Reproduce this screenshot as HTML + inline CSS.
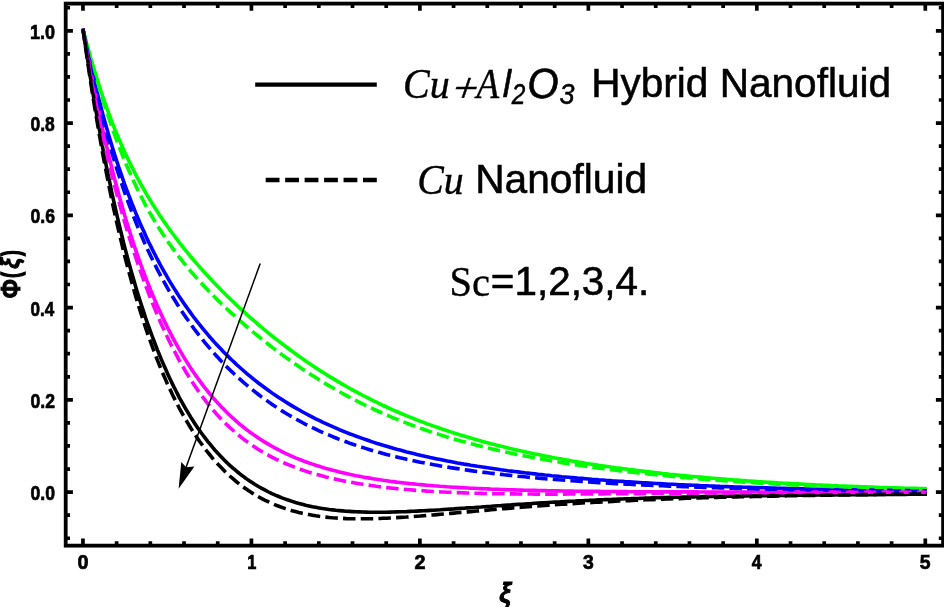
<!DOCTYPE html>
<html><head><meta charset="utf-8"><title>Plot</title>
<style>
html,body{margin:0;padding:0;background:#fff;}
body{width:944px;height:607px;position:relative;overflow:hidden;}
svg{position:absolute;left:0;top:0;display:block;}
text{fill:#000;}
.xl{font-family:"Liberation Sans","DejaVu Sans",sans-serif;font-weight:bold;font-style:italic;font-size:27px;}
.yl{font-family:"Liberation Sans","DejaVu Sans",sans-serif;font-weight:bold;font-size:27px;}
</style></head><body>
<svg width="944" height="607" viewBox="0 0 944 607">
<rect width="944" height="607" fill="#fff"/>
<path d="M82.7,28.8 L83.2,30.5 L84.9,37.0 L86.6,43.3 L88.3,49.5 L89.9,55.5 L91.6,61.3 L93.3,67.0 L95.0,72.6 L96.7,78.1 L98.4,83.4 L100.1,88.6 L101.7,93.6 L103.4,98.6 L105.1,103.4 L106.8,108.1 L108.5,112.7 L110.2,117.2 L111.8,121.6 L113.5,125.9 L115.2,130.1 L116.9,134.2 L118.6,138.2 L120.3,142.1 L122.0,146.0 L123.6,149.7 L125.3,153.4 L127.0,157.0 L128.7,160.6 L130.4,164.0 L132.1,167.4 L133.8,170.8 L135.4,174.0 L137.1,177.3 L138.8,180.4 L140.5,183.5 L142.2,186.5 L143.9,189.5 L145.5,192.4 L147.2,195.3 L148.9,198.1 L150.6,200.9 L152.3,203.7 L154.0,206.4 L155.7,209.0 L157.3,211.6 L159.0,214.2 L160.7,216.7 L162.4,219.2 L164.1,221.7 L165.8,224.1 L167.4,226.5 L169.1,228.8 L170.8,231.2 L172.5,233.5 L174.2,235.7 L175.9,238.0 L177.6,240.2 L179.2,242.4 L180.9,244.5 L182.6,246.7 L184.3,248.8 L186.0,250.9 L187.7,252.9 L189.4,255.0 L191.0,257.0 L192.7,259.0 L194.4,261.0 L196.1,262.9 L197.8,264.9 L199.5,266.8 L201.2,268.7 L202.8,270.6 L204.5,272.4 L206.2,274.3 L207.9,276.1 L209.6,277.9 L211.3,279.7 L212.9,281.5 L214.6,283.3 L216.3,285.0 L218.0,286.8 L219.7,288.5 L221.4,290.2 L223.1,291.9 L224.7,293.6 L226.4,295.2 L228.1,296.9 L229.8,298.5 L231.5,300.2 L233.2,301.8 L234.9,303.4 L236.5,305.0 L238.2,306.6 L239.9,308.1 L241.6,309.7 L243.3,311.2 L245.0,312.8 L246.6,314.3 L248.3,315.8 L250.0,317.3 L251.7,318.8 L255.1,321.7 L258.4,324.6 L261.8,327.5 L265.2,330.3 L268.6,333.1 L271.9,335.8 L275.3,338.5 L278.7,341.1 L282.0,343.7 L285.4,346.3 L288.8,348.8 L292.1,351.3 L295.5,353.8 L298.9,356.2 L302.3,358.6 L305.6,360.9 L309.0,363.3 L312.4,365.5 L315.7,367.8 L319.1,370.0 L322.5,372.1 L325.8,374.3 L329.2,376.4 L332.6,378.4 L336.0,380.4 L339.3,382.4 L342.7,384.4 L346.1,386.3 L349.4,388.2 L352.8,390.1 L356.2,391.9 L359.5,393.7 L362.9,395.5 L366.3,397.2 L369.7,398.9 L373.0,400.6 L376.4,402.2 L379.8,403.9 L383.1,405.5 L386.5,407.0 L389.9,408.6 L393.2,410.1 L396.6,411.5 L400.0,413.0 L403.4,414.4 L406.7,415.8 L410.1,417.2 L413.5,418.5 L416.8,419.9 L420.2,421.2 L423.6,422.4 L426.9,423.7 L430.3,424.9 L433.7,426.1 L437.1,427.3 L440.4,428.5 L443.8,429.6 L447.2,430.8 L450.5,431.9 L453.9,433.0 L457.3,434.0 L460.6,435.1 L464.0,436.1 L467.4,437.1 L470.8,438.1 L474.1,439.1 L477.5,440.0 L480.9,441.0 L484.2,441.9 L487.6,442.8 L491.0,443.7 L494.3,444.6 L497.7,445.4 L501.1,446.3 L504.5,447.1 L507.8,447.9 L511.2,448.7 L514.6,449.5 L517.9,450.3 L521.3,451.0 L524.7,451.8 L528.0,452.5 L531.4,453.2 L534.8,453.9 L538.2,454.6 L541.5,455.3 L544.9,456.0 L548.3,456.6 L551.6,457.3 L555.0,457.9 L558.4,458.5 L561.7,459.1 L565.1,459.7 L568.5,460.3 L571.9,460.9 L575.2,461.5 L578.6,462.1 L582.0,462.6 L585.3,463.2 L588.7,463.7 L592.1,464.2 L595.4,464.7 L598.8,465.3 L602.2,465.8 L605.6,466.2 L608.9,466.7 L612.3,467.2 L615.7,467.7 L619.0,468.1 L622.4,468.6 L625.8,469.0 L629.1,469.5 L632.5,469.9 L635.9,470.3 L639.3,470.7 L642.6,471.1 L646.0,471.5 L649.4,471.9 L652.7,472.3 L656.1,472.7 L659.5,473.1 L662.8,473.5 L666.2,473.8 L669.6,474.2 L673.0,474.5 L676.3,474.9 L679.7,475.2 L683.1,475.5 L686.4,475.9 L689.8,476.2 L693.2,476.5 L696.5,476.8 L699.9,477.1 L703.3,477.4 L706.7,477.7 L710.0,478.0 L713.4,478.3 L716.8,478.6 L720.1,478.8 L723.5,479.1 L726.9,479.4 L730.2,479.6 L733.6,479.9 L737.0,480.1 L740.4,480.4 L743.7,480.6 L747.1,480.9 L750.5,481.1 L753.8,481.3 L757.2,481.6 L760.6,481.8 L763.9,482.0 L767.3,482.2 L770.7,482.4 L774.1,482.6 L777.4,482.8 L780.8,483.0 L784.2,483.2 L787.5,483.4 L790.9,483.6 L794.3,483.8 L797.6,483.9 L801.0,484.1 L804.4,484.3 L807.8,484.5 L811.1,484.6 L814.5,484.8 L817.9,485.0 L821.2,485.1 L824.6,485.3 L828.0,485.4 L831.3,485.6 L834.7,485.7 L838.1,485.9 L841.5,486.0 L844.8,486.1 L848.2,486.3 L851.6,486.4 L854.9,486.5 L858.3,486.6 L861.7,486.8 L865.0,486.9 L868.4,487.0 L871.8,487.1 L875.2,487.2 L878.5,487.4 L881.9,487.5 L885.3,487.6 L888.6,487.7 L892.0,487.8 L895.4,487.9 L898.7,488.0 L902.1,488.1 L905.5,488.2 L908.9,488.3 L912.2,488.3 L915.6,488.4 L919.0,488.5 L922.3,488.6 L927.0,488.7" fill="none" stroke="#00ff00" stroke-width="3.6"/>
<path d="M82.8,28.7 L83.2,30.5 L84.9,38.7 L86.6,46.7 L88.3,54.4 L89.9,62.0 L91.6,69.4 L93.3,76.6 L95.0,83.7 L96.7,90.5 L98.4,97.3 L100.1,103.8 L101.7,110.2 L103.4,116.5 L105.1,122.6 L106.8,128.5 L108.5,134.4 L110.2,140.1 L111.8,145.6 L113.5,151.1 L115.2,156.4 L116.9,161.6 L118.6,166.7 L120.3,171.7 L122.0,176.6 L123.6,181.4 L125.3,186.0 L127.0,190.6 L128.7,195.1 L130.4,199.5 L132.1,203.8 L133.8,208.0 L135.4,212.2 L137.1,216.2 L138.8,220.2 L140.5,224.1 L142.2,227.9 L143.9,231.6 L145.5,235.3 L147.2,238.9 L148.9,242.5 L150.6,245.9 L152.3,249.4 L154.0,252.7 L155.7,256.0 L157.3,259.2 L159.0,262.4 L160.7,265.5 L162.4,268.6 L164.1,271.6 L165.8,274.5 L167.4,277.4 L169.1,280.3 L170.8,283.1 L172.5,285.9 L174.2,288.6 L175.9,291.3 L177.6,293.9 L179.2,296.5 L180.9,299.0 L182.6,301.5 L184.3,304.0 L186.0,306.4 L187.7,308.8 L189.4,311.1 L191.0,313.4 L192.7,315.7 L194.4,318.0 L196.1,320.2 L197.8,322.3 L199.5,324.5 L201.2,326.6 L202.8,328.7 L204.5,330.7 L206.2,332.7 L207.9,334.7 L209.6,336.7 L211.3,338.6 L212.9,340.5 L214.6,342.4 L216.3,344.2 L218.0,346.0 L219.7,347.8 L221.4,349.6 L223.1,351.4 L224.7,353.1 L226.4,354.8 L228.1,356.4 L229.8,358.1 L231.5,359.7 L233.2,361.3 L234.9,362.9 L236.5,364.5 L238.2,366.0 L239.9,367.5 L241.6,369.0 L243.3,370.5 L245.0,372.0 L246.6,373.4 L248.3,374.8 L250.0,376.2 L251.7,377.6 L255.1,380.3 L258.4,383.0 L261.8,385.5 L265.2,388.0 L268.6,390.5 L271.9,392.9 L275.3,395.2 L278.7,397.4 L282.0,399.6 L285.4,401.8 L288.8,403.9 L292.1,405.9 L295.5,407.9 L298.9,409.8 L302.3,411.7 L305.6,413.5 L309.0,415.3 L312.4,417.1 L315.7,418.8 L319.1,420.4 L322.5,422.1 L325.8,423.6 L329.2,425.2 L332.6,426.7 L336.0,428.1 L339.3,429.6 L342.7,431.0 L346.1,432.3 L349.4,433.7 L352.8,434.9 L356.2,436.2 L359.5,437.4 L362.9,438.6 L366.3,439.8 L369.7,441.0 L373.0,442.1 L376.4,443.2 L379.8,444.2 L383.1,445.3 L386.5,446.3 L389.9,447.3 L393.2,448.2 L396.6,449.2 L400.0,450.1 L403.4,451.0 L406.7,451.9 L410.1,452.7 L413.5,453.6 L416.8,454.4 L420.2,455.2 L423.6,456.0 L426.9,456.7 L430.3,457.5 L433.7,458.2 L437.1,458.9 L440.4,459.6 L443.8,460.3 L447.2,461.0 L450.5,461.6 L453.9,462.2 L457.3,462.9 L460.6,463.5 L464.0,464.1 L467.4,464.6 L470.8,465.2 L474.1,465.7 L477.5,466.3 L480.9,466.8 L484.2,467.3 L487.6,467.8 L491.0,468.3 L494.3,468.8 L497.7,469.3 L501.1,469.8 L504.5,470.2 L507.8,470.7 L511.2,471.1 L514.6,471.5 L517.9,471.9 L521.3,472.4 L524.7,472.8 L528.0,473.1 L531.4,473.5 L534.8,473.9 L538.2,474.3 L541.5,474.6 L544.9,475.0 L548.3,475.3 L551.6,475.7 L555.0,476.0 L558.4,476.3 L561.7,476.7 L565.1,477.0 L568.5,477.3 L571.9,477.6 L575.2,477.9 L578.6,478.2 L582.0,478.4 L585.3,478.7 L588.7,479.0 L592.1,479.3 L595.4,479.5 L598.8,479.8 L602.2,480.0 L605.6,480.3 L608.9,480.5 L612.3,480.8 L615.7,481.0 L619.0,481.2 L622.4,481.4 L625.8,481.7 L629.1,481.9 L632.5,482.1 L635.9,482.3 L639.3,482.5 L642.6,482.7 L646.0,482.9 L649.4,483.1 L652.7,483.3 L656.1,483.5 L659.5,483.6 L662.8,483.8 L666.2,484.0 L669.6,484.2 L673.0,484.3 L676.3,484.5 L679.7,484.7 L683.1,484.8 L686.4,485.0 L689.8,485.1 L693.2,485.3 L696.5,485.4 L699.9,485.6 L703.3,485.7 L706.7,485.8 L710.0,486.0 L713.4,486.1 L716.8,486.2 L720.1,486.4 L723.5,486.5 L726.9,486.6 L730.2,486.7 L733.6,486.9 L737.0,487.0 L740.4,487.1 L743.7,487.2 L747.1,487.3 L750.5,487.4 L753.8,487.5 L757.2,487.6 L760.6,487.7 L763.9,487.8 L767.3,487.9 L770.7,488.0 L774.1,488.1 L777.4,488.2 L780.8,488.3 L784.2,488.4 L787.5,488.5 L790.9,488.5 L794.3,488.6 L797.6,488.7 L801.0,488.8 L804.4,488.9 L807.8,488.9 L811.1,489.0 L814.5,489.1 L817.9,489.2 L821.2,489.2 L824.6,489.3 L828.0,489.4 L831.3,489.4 L834.7,489.5 L838.1,489.6 L841.5,489.6 L844.8,489.7 L848.2,489.7 L851.6,489.8 L854.9,489.9 L858.3,489.9 L861.7,490.0 L865.0,490.0 L868.4,490.1 L871.8,490.1 L875.2,490.2 L878.5,490.2 L881.9,490.3 L885.3,490.3 L888.6,490.4 L892.0,490.4 L895.4,490.4 L898.7,490.5 L902.1,490.5 L905.5,490.6 L908.9,490.6 L912.2,490.7 L915.6,490.7 L919.0,490.7 L922.3,490.8 L927.0,490.8" fill="none" stroke="#0000ff" stroke-width="3.6"/>
<path d="M82.9,28.7 L83.2,30.5 L84.9,39.9 L86.6,49.2 L88.3,58.3 L89.9,67.3 L91.6,76.0 L93.3,84.6 L95.0,93.0 L96.7,101.3 L98.4,109.3 L100.1,117.2 L101.7,125.0 L103.4,132.5 L105.1,139.9 L106.8,147.2 L108.5,154.3 L110.2,161.2 L111.8,168.0 L113.5,174.7 L115.2,181.2 L116.9,187.5 L118.6,193.8 L120.3,199.9 L122.0,205.8 L123.6,211.7 L125.3,217.4 L127.0,223.0 L128.7,228.4 L130.4,233.8 L132.1,239.0 L133.8,244.2 L135.4,249.2 L137.1,254.1 L138.8,258.9 L140.5,263.6 L142.2,268.3 L143.9,272.8 L145.5,277.2 L147.2,281.6 L148.9,285.8 L150.6,290.0 L152.3,294.1 L154.0,298.1 L155.7,302.0 L157.3,305.8 L159.0,309.6 L160.7,313.3 L162.4,316.9 L164.1,320.5 L165.8,323.9 L167.4,327.3 L169.1,330.7 L170.8,333.9 L172.5,337.1 L174.2,340.3 L175.9,343.4 L177.6,346.4 L179.2,349.3 L180.9,352.2 L182.6,355.1 L184.3,357.9 L186.0,360.6 L187.7,363.3 L189.4,365.9 L191.0,368.5 L192.7,371.0 L194.4,373.5 L196.1,375.9 L197.8,378.3 L199.5,380.6 L201.2,382.9 L202.8,385.1 L204.5,387.3 L206.2,389.4 L207.9,391.5 L209.6,393.6 L211.3,395.6 L212.9,397.6 L214.6,399.5 L216.3,401.4 L218.0,403.3 L219.7,405.1 L221.4,406.9 L223.1,408.6 L224.7,410.3 L226.4,412.0 L228.1,413.7 L229.8,415.3 L231.5,416.9 L233.2,418.4 L234.9,419.9 L236.5,421.4 L238.2,422.8 L239.9,424.3 L241.6,425.7 L243.3,427.0 L245.0,428.4 L246.6,429.7 L248.3,430.9 L250.0,432.2 L251.7,433.4 L255.1,435.8 L258.4,438.1 L261.8,440.3 L265.2,442.4 L268.6,444.4 L271.9,446.3 L275.3,448.2 L278.7,449.9 L282.0,451.6 L285.4,453.3 L288.8,454.8 L292.1,456.3 L295.5,457.8 L298.9,459.2 L302.3,460.5 L305.6,461.8 L309.0,463.0 L312.4,464.1 L315.7,465.3 L319.1,466.3 L322.5,467.4 L325.8,468.4 L329.2,469.3 L332.6,470.2 L336.0,471.1 L339.3,471.9 L342.7,472.7 L346.1,473.5 L349.4,474.3 L352.8,475.0 L356.2,475.7 L359.5,476.3 L362.9,477.0 L366.3,477.6 L369.7,478.1 L373.0,478.7 L376.4,479.2 L379.8,479.8 L383.1,480.3 L386.5,480.7 L389.9,481.2 L393.2,481.6 L396.6,482.1 L400.0,482.5 L403.4,482.9 L406.7,483.2 L410.1,483.6 L413.5,483.9 L416.8,484.3 L420.2,484.6 L423.6,484.9 L426.9,485.2 L430.3,485.5 L433.7,485.8 L437.1,486.0 L440.4,486.3 L443.8,486.5 L447.2,486.8 L450.5,487.0 L453.9,487.2 L457.3,487.4 L460.6,487.6 L464.0,487.8 L467.4,488.0 L470.8,488.2 L474.1,488.3 L477.5,488.5 L480.9,488.6 L484.2,488.8 L487.6,488.9 L491.0,489.1 L494.3,489.2 L497.7,489.3 L501.1,489.5 L504.5,489.6 L507.8,489.7 L511.2,489.8 L514.6,489.9 L517.9,490.0 L521.3,490.1 L524.7,490.2 L528.0,490.3 L531.4,490.3 L534.8,490.4 L538.2,490.5 L541.5,490.6 L544.9,490.6 L548.3,490.7 L551.6,490.8 L555.0,490.8 L558.4,490.9 L561.7,491.0 L565.1,491.0 L568.5,491.1 L571.9,491.1 L575.2,491.2 L578.6,491.2 L582.0,491.2 L585.3,491.3 L588.7,491.3 L592.1,491.4 L595.4,491.4 L598.8,491.4 L602.2,491.5 L605.6,491.5 L608.9,491.5 L612.3,491.5 L615.7,491.6 L619.0,491.6 L622.4,491.6 L625.8,491.6 L629.1,491.7 L632.5,491.7 L635.9,491.7 L639.3,491.7 L642.6,491.7 L646.0,491.8 L649.4,491.8 L652.7,491.8 L656.1,491.8 L659.5,491.8 L662.8,491.8 L666.2,491.9 L669.6,491.9 L673.0,491.9 L676.3,491.9 L679.7,491.9 L683.1,491.9 L686.4,491.9 L689.8,491.9 L693.2,491.9 L696.5,491.9 L699.9,492.0 L703.3,492.0 L706.7,492.0 L710.0,492.0 L713.4,492.0 L716.8,492.0 L720.1,492.0 L723.5,492.0 L726.9,492.0 L730.2,492.0 L733.6,492.0 L737.0,492.0 L740.4,492.0 L743.7,492.0 L747.1,492.0 L750.5,492.0 L753.8,492.0 L757.2,492.0 L760.6,492.0 L763.9,492.0 L767.3,492.1 L770.7,492.1 L774.1,492.1 L777.4,492.1 L780.8,492.1 L784.2,492.1 L787.5,492.1 L790.9,492.1 L794.3,492.1 L797.6,492.1 L801.0,492.1 L804.4,492.1 L807.8,492.1 L811.1,492.1 L814.5,492.1 L817.9,492.1 L821.2,492.1 L824.6,492.1 L828.0,492.1 L831.3,492.1 L834.7,492.1 L838.1,492.1 L841.5,492.1 L844.8,492.1 L848.2,492.1 L851.6,492.1 L854.9,492.1 L858.3,492.1 L861.7,492.1 L865.0,492.1 L868.4,492.1 L871.8,492.1 L875.2,492.1 L878.5,492.1 L881.9,492.1 L885.3,492.1 L888.6,492.1 L892.0,492.1 L895.4,492.1 L898.7,492.1 L902.1,492.1 L905.5,492.1 L908.9,492.1 L912.2,492.1 L915.6,492.1 L919.0,492.1 L922.3,492.1 L927.0,492.1" fill="none" stroke="#ff00ff" stroke-width="3.6"/>
<path d="M82.9,28.7 L83.2,30.5 L84.9,41.9 L86.6,53.1 L88.3,64.0 L89.9,74.6 L91.6,85.0 L93.3,95.2 L95.0,105.1 L96.7,114.8 L98.4,124.2 L100.1,133.5 L101.7,142.5 L103.4,151.3 L105.1,160.0 L106.8,168.4 L108.5,176.6 L110.2,184.7 L111.8,192.5 L113.5,200.2 L115.2,207.7 L116.9,215.1 L118.6,222.3 L120.3,229.3 L122.0,236.2 L123.6,242.9 L125.3,249.4 L127.0,255.8 L128.7,262.1 L130.4,268.2 L132.1,274.2 L133.8,280.1 L135.4,285.8 L137.1,291.4 L138.8,296.9 L140.5,302.2 L142.2,307.4 L143.9,312.6 L145.5,317.6 L147.2,322.5 L148.9,327.2 L150.6,331.9 L152.3,336.5 L154.0,341.0 L155.7,345.3 L157.3,349.6 L159.0,353.8 L160.7,357.9 L162.4,361.9 L164.1,365.8 L165.8,369.6 L167.4,373.3 L169.1,377.0 L170.8,380.6 L172.5,384.1 L174.2,387.5 L175.9,390.8 L177.6,394.1 L179.2,397.3 L180.9,400.4 L182.6,403.4 L184.3,406.4 L186.0,409.3 L187.7,412.1 L189.4,414.9 L191.0,417.6 L192.7,420.3 L194.4,422.9 L196.1,425.4 L197.8,427.9 L199.5,430.3 L201.2,432.7 L202.8,435.0 L204.5,437.2 L206.2,439.4 L207.9,441.6 L209.6,443.7 L211.3,445.7 L212.9,447.7 L214.6,449.7 L216.3,451.6 L218.0,453.4 L219.7,455.3 L221.4,457.0 L223.1,458.8 L224.7,460.4 L226.4,462.1 L228.1,463.7 L229.8,465.3 L231.5,466.8 L233.2,468.3 L234.9,469.7 L236.5,471.1 L238.2,472.5 L239.9,473.9 L241.6,475.2 L243.3,476.4 L245.0,477.7 L246.6,478.9 L248.3,480.1 L250.0,481.2 L251.7,482.3 L255.1,484.5 L258.4,486.5 L261.8,488.4 L265.2,490.2 L268.6,492.0 L271.9,493.6 L275.3,495.1 L278.7,496.5 L282.0,497.9 L285.4,499.1 L288.8,500.3 L292.1,501.4 L295.5,502.5 L298.9,503.4 L302.3,504.3 L305.6,505.2 L309.0,505.9 L312.4,506.7 L315.7,507.3 L319.1,507.9 L322.5,508.5 L325.8,509.0 L329.2,509.5 L332.6,509.9 L336.0,510.3 L339.3,510.6 L342.7,510.9 L346.1,511.2 L349.4,511.4 L352.8,511.6 L356.2,511.8 L359.5,511.9 L362.9,512.0 L366.3,512.1 L369.7,512.2 L373.0,512.2 L376.4,512.2 L379.8,512.2 L383.1,512.2 L386.5,512.2 L389.9,512.1 L393.2,512.0 L396.6,511.9 L400.0,511.8 L403.4,511.7 L406.7,511.6 L410.1,511.4 L413.5,511.3 L416.8,511.1 L420.2,510.9 L423.6,510.8 L426.9,510.6 L430.3,510.4 L433.7,510.2 L437.1,510.0 L440.4,509.8 L443.8,509.5 L447.2,509.3 L450.5,509.1 L453.9,508.9 L457.3,508.6 L460.6,508.4 L464.0,508.2 L467.4,507.9 L470.8,507.7 L474.1,507.5 L477.5,507.2 L480.9,507.0 L484.2,506.7 L487.6,506.5 L491.0,506.3 L494.3,506.0 L497.7,505.8 L501.1,505.6 L504.5,505.3 L507.8,505.1 L511.2,504.9 L514.6,504.6 L517.9,504.4 L521.3,504.2 L524.7,504.0 L528.0,503.8 L531.4,503.6 L534.8,503.3 L538.2,503.1 L541.5,502.9 L544.9,502.7 L548.3,502.5 L551.6,502.3 L555.0,502.1 L558.4,502.0 L561.7,501.8 L565.1,501.6 L568.5,501.4 L571.9,501.2 L575.2,501.1 L578.6,500.9 L582.0,500.7 L585.3,500.5 L588.7,500.4 L592.1,500.2 L595.4,500.1 L598.8,499.9 L602.2,499.8 L605.6,499.6 L608.9,499.5 L612.3,499.4 L615.7,499.2 L619.0,499.1 L622.4,499.0 L625.8,498.8 L629.1,498.7 L632.5,498.6 L635.9,498.5 L639.3,498.4 L642.6,498.2 L646.0,498.1 L649.4,498.0 L652.7,497.9 L656.1,497.8 L659.5,497.7 L662.8,497.6 L666.2,497.5 L669.6,497.4 L673.0,497.3 L676.3,497.3 L679.7,497.2 L683.1,497.1 L686.4,497.0 L689.8,496.9 L693.2,496.9 L696.5,496.8 L699.9,496.7 L703.3,496.6 L706.7,496.6 L710.0,496.5 L713.4,496.4 L716.8,496.4 L720.1,496.3 L723.5,496.2 L726.9,496.2 L730.2,496.1 L733.6,496.1 L737.0,496.0 L740.4,496.0 L743.7,495.9 L747.1,495.9 L750.5,495.8 L753.8,495.8 L757.2,495.7 L760.6,495.7 L763.9,495.6 L767.3,495.6 L770.7,495.5 L774.1,495.5 L777.4,495.5 L780.8,495.4 L784.2,495.4 L787.5,495.3 L790.9,495.3 L794.3,495.3 L797.6,495.2 L801.0,495.2 L804.4,495.2 L807.8,495.1 L811.1,495.1 L814.5,495.1 L817.9,495.0 L821.2,495.0 L824.6,495.0 L828.0,494.9 L831.3,494.9 L834.7,494.9 L838.1,494.8 L841.5,494.8 L844.8,494.8 L848.2,494.8 L851.6,494.7 L854.9,494.7 L858.3,494.7 L861.7,494.7 L865.0,494.6 L868.4,494.6 L871.8,494.6 L875.2,494.6 L878.5,494.5 L881.9,494.5 L885.3,494.5 L888.6,494.5 L892.0,494.4 L895.4,494.4 L898.7,494.4 L902.1,494.4 L905.5,494.4 L908.9,494.3 L912.2,494.3 L915.6,494.3 L919.0,494.3 L922.3,494.3 L927.0,494.2" fill="none" stroke="#000000" stroke-width="3.6"/>
<path d="M82.7,28.8 L83.2,30.5 L84.9,37.0 L86.6,43.3 L88.3,49.6 L89.9,55.8 L91.6,61.9 L93.3,67.9 L95.0,73.8 L96.7,79.6 L98.4,85.3 L100.1,90.9 L101.7,96.3 L103.4,101.7 L105.1,107.0 L106.8,112.1 L108.5,117.2 L110.2,122.2 L111.8,127.0 L113.5,131.8 L115.2,136.4 L116.9,141.0 L118.6,145.4 L120.3,149.8 L122.0,154.1 L123.6,158.2 L125.3,162.3 L127.0,166.3 L128.7,170.2 L130.4,174.1 L132.1,177.8 L133.8,181.5 L135.4,185.1 L137.1,188.6 L138.8,192.0 L140.5,195.4 L142.2,198.7 L143.9,201.9 L145.5,205.1 L147.2,208.2 L148.9,211.2 L150.6,214.2 L152.3,217.1 L154.0,219.9 L155.7,222.7 L157.3,225.5 L159.0,228.2 L160.7,230.8 L162.4,233.4 L164.1,236.0 L165.8,238.5 L167.4,240.9 L169.1,243.4 L170.8,245.7 L172.5,248.1 L174.2,250.4 L175.9,252.6 L177.6,254.9 L179.2,257.1 L180.9,259.2 L182.6,261.4 L184.3,263.5 L186.0,265.5 L187.7,267.6 L189.4,269.6 L191.0,271.6 L192.7,273.5 L194.4,275.5 L196.1,277.4 L197.8,279.3 L199.5,281.1 L201.2,283.0 L202.8,284.8 L204.5,286.6 L206.2,288.4 L207.9,290.2 L209.6,291.9 L211.3,293.6 L212.9,295.3 L214.6,297.0 L216.3,298.7 L218.0,300.4 L219.7,302.0 L221.4,303.7 L223.1,305.3 L224.7,306.9 L226.4,308.5 L228.1,310.0 L229.8,311.6 L231.5,313.2 L233.2,314.7 L234.9,316.2 L236.5,317.7 L238.2,319.2 L239.9,320.7 L241.6,322.2 L243.3,323.7 L245.0,325.1 L246.6,326.6 L248.3,328.0 L250.0,329.4 L251.7,330.9 L255.1,333.7 L258.4,336.4 L261.8,339.1 L265.2,341.8 L268.6,344.5 L271.9,347.1 L275.3,349.6 L278.7,352.2 L282.0,354.7 L285.4,357.1 L288.8,359.5 L292.1,361.9 L295.5,364.3 L298.9,366.6 L302.3,368.9 L305.6,371.1 L309.0,373.3 L312.4,375.5 L315.7,377.6 L319.1,379.8 L322.5,381.8 L325.8,383.9 L329.2,385.9 L332.6,387.8 L336.0,389.8 L339.3,391.7 L342.7,393.5 L346.1,395.4 L349.4,397.2 L352.8,399.0 L356.2,400.7 L359.5,402.4 L362.9,404.1 L366.3,405.7 L369.7,407.3 L373.0,408.9 L376.4,410.5 L379.8,412.0 L383.1,413.5 L386.5,415.0 L389.9,416.4 L393.2,417.8 L396.6,419.2 L400.0,420.6 L403.4,421.9 L406.7,423.2 L410.1,424.5 L413.5,425.7 L416.8,427.0 L420.2,428.2 L423.6,429.3 L426.9,430.5 L430.3,431.6 L433.7,432.8 L437.1,433.8 L440.4,434.9 L443.8,436.0 L447.2,437.0 L450.5,438.0 L453.9,439.0 L457.3,440.0 L460.6,440.9 L464.0,441.8 L467.4,442.8 L470.8,443.7 L474.1,444.5 L477.5,445.4 L480.9,446.3 L484.2,447.1 L487.6,447.9 L491.0,448.7 L494.3,449.5 L497.7,450.3 L501.1,451.0 L504.5,451.8 L507.8,452.5 L511.2,453.2 L514.6,453.9 L517.9,454.6 L521.3,455.3 L524.7,456.0 L528.0,456.6 L531.4,457.3 L534.8,457.9 L538.2,458.5 L541.5,459.1 L544.9,459.7 L548.3,460.3 L551.6,460.9 L555.0,461.5 L558.4,462.0 L561.7,462.6 L565.1,463.1 L568.5,463.7 L571.9,464.2 L575.2,464.7 L578.6,465.2 L582.0,465.7 L585.3,466.2 L588.7,466.7 L592.1,467.2 L595.4,467.6 L598.8,468.1 L602.2,468.5 L605.6,469.0 L608.9,469.4 L612.3,469.8 L615.7,470.3 L619.0,470.7 L622.4,471.1 L625.8,471.5 L629.1,471.9 L632.5,472.3 L635.9,472.7 L639.3,473.0 L642.6,473.4 L646.0,473.8 L649.4,474.1 L652.7,474.5 L656.1,474.8 L659.5,475.2 L662.8,475.5 L666.2,475.8 L669.6,476.2 L673.0,476.5 L676.3,476.8 L679.7,477.1 L683.1,477.4 L686.4,477.7 L689.8,478.0 L693.2,478.3 L696.5,478.6 L699.9,478.9 L703.3,479.1 L706.7,479.4 L710.0,479.7 L713.4,479.9 L716.8,480.2 L720.1,480.4 L723.5,480.7 L726.9,480.9 L730.2,481.2 L733.6,481.4 L737.0,481.6 L740.4,481.8 L743.7,482.1 L747.1,482.3 L750.5,482.5 L753.8,482.7 L757.2,482.9 L760.6,483.1 L763.9,483.3 L767.3,483.5 L770.7,483.7 L774.1,483.9 L777.4,484.1 L780.8,484.2 L784.2,484.4 L787.5,484.6 L790.9,484.8 L794.3,484.9 L797.6,485.1 L801.0,485.3 L804.4,485.4 L807.8,485.6 L811.1,485.7 L814.5,485.9 L817.9,486.0 L821.2,486.1 L824.6,486.3 L828.0,486.4 L831.3,486.6 L834.7,486.7 L838.1,486.8 L841.5,486.9 L844.8,487.1 L848.2,487.2 L851.6,487.3 L854.9,487.4 L858.3,487.5 L861.7,487.6 L865.0,487.7 L868.4,487.9 L871.8,488.0 L875.2,488.1 L878.5,488.2 L881.9,488.3 L885.3,488.4 L888.6,488.4 L892.0,488.5 L895.4,488.6 L898.7,488.7 L902.1,488.8 L905.5,488.9 L908.9,489.0 L912.2,489.0 L915.6,489.1 L919.0,489.2 L922.3,489.3 L927.0,489.4" fill="none" stroke="#00ff00" stroke-width="3.6" stroke-dasharray="12.5 5.2"/>
<path d="M82.9,28.7 L83.2,30.5 L84.9,39.3 L86.6,47.9 L88.3,56.2 L89.9,64.3 L91.6,72.2 L93.3,79.9 L95.0,87.3 L96.7,94.6 L98.4,101.7 L100.1,108.6 L101.7,115.4 L103.4,121.9 L105.1,128.3 L106.8,134.6 L108.5,140.7 L110.2,146.6 L111.8,152.4 L113.5,158.1 L115.2,163.6 L116.9,169.1 L118.6,174.3 L120.3,179.5 L122.0,184.6 L123.6,189.5 L125.3,194.3 L127.0,199.0 L128.7,203.7 L130.4,208.2 L132.1,212.6 L133.8,217.0 L135.4,221.2 L137.1,225.4 L138.8,229.4 L140.5,233.4 L142.2,237.3 L143.9,241.2 L145.5,244.9 L147.2,248.6 L148.9,252.3 L150.6,255.8 L152.3,259.3 L154.0,262.7 L155.7,266.1 L157.3,269.4 L159.0,272.6 L160.7,275.8 L162.4,278.9 L164.1,282.0 L165.8,285.0 L167.4,287.9 L169.1,290.9 L170.8,293.7 L172.5,296.5 L174.2,299.3 L175.9,302.0 L177.6,304.7 L179.2,307.3 L180.9,309.9 L182.6,312.4 L184.3,314.9 L186.0,317.4 L187.7,319.8 L189.4,322.2 L191.0,324.6 L192.7,326.9 L194.4,329.2 L196.1,331.4 L197.8,333.6 L199.5,335.8 L201.2,337.9 L202.8,340.0 L204.5,342.1 L206.2,344.1 L207.9,346.1 L209.6,348.1 L211.3,350.1 L212.9,352.0 L214.6,353.9 L216.3,355.8 L218.0,357.6 L219.7,359.4 L221.4,361.2 L223.1,362.9 L224.7,364.7 L226.4,366.4 L228.1,368.1 L229.8,369.7 L231.5,371.4 L233.2,373.0 L234.9,374.6 L236.5,376.1 L238.2,377.7 L239.9,379.2 L241.6,380.7 L243.3,382.2 L245.0,383.6 L246.6,385.0 L248.3,386.5 L250.0,387.9 L251.7,389.2 L255.1,391.9 L258.4,394.5 L261.8,397.1 L265.2,399.5 L268.6,401.9 L271.9,404.3 L275.3,406.5 L278.7,408.7 L282.0,410.9 L285.4,413.0 L288.8,415.0 L292.1,416.9 L295.5,418.9 L298.9,420.7 L302.3,422.5 L305.6,424.3 L309.0,426.0 L312.4,427.6 L315.7,429.2 L319.1,430.8 L322.5,432.3 L325.8,433.8 L329.2,435.2 L332.6,436.6 L336.0,438.0 L339.3,439.3 L342.7,440.6 L346.1,441.8 L349.4,443.1 L352.8,444.2 L356.2,445.4 L359.5,446.5 L362.9,447.6 L366.3,448.6 L369.7,449.7 L373.0,450.7 L376.4,451.6 L379.8,452.6 L383.1,453.5 L386.5,454.4 L389.9,455.3 L393.2,456.1 L396.6,456.9 L400.0,457.8 L403.4,458.5 L406.7,459.3 L410.1,460.0 L413.5,460.8 L416.8,461.5 L420.2,462.2 L423.6,462.8 L426.9,463.5 L430.3,464.1 L433.7,464.7 L437.1,465.3 L440.4,465.9 L443.8,466.5 L447.2,467.0 L450.5,467.6 L453.9,468.1 L457.3,468.6 L460.6,469.2 L464.0,469.6 L467.4,470.1 L470.8,470.6 L474.1,471.1 L477.5,471.5 L480.9,472.0 L484.2,472.4 L487.6,472.8 L491.0,473.2 L494.3,473.6 L497.7,474.0 L501.1,474.4 L504.5,474.8 L507.8,475.1 L511.2,475.5 L514.6,475.8 L517.9,476.2 L521.3,476.5 L524.7,476.8 L528.0,477.2 L531.4,477.5 L534.8,477.8 L538.2,478.1 L541.5,478.4 L544.9,478.7 L548.3,479.0 L551.6,479.2 L555.0,479.5 L558.4,479.8 L561.7,480.0 L565.1,480.3 L568.5,480.5 L571.9,480.8 L575.2,481.0 L578.6,481.3 L582.0,481.5 L585.3,481.7 L588.7,481.9 L592.1,482.1 L595.4,482.4 L598.8,482.6 L602.2,482.8 L605.6,483.0 L608.9,483.2 L612.3,483.4 L615.7,483.6 L619.0,483.7 L622.4,483.9 L625.8,484.1 L629.1,484.3 L632.5,484.4 L635.9,484.6 L639.3,484.8 L642.6,484.9 L646.0,485.1 L649.4,485.3 L652.7,485.4 L656.1,485.6 L659.5,485.7 L662.8,485.8 L666.2,486.0 L669.6,486.1 L673.0,486.3 L676.3,486.4 L679.7,486.5 L683.1,486.6 L686.4,486.8 L689.8,486.9 L693.2,487.0 L696.5,487.1 L699.9,487.2 L703.3,487.4 L706.7,487.5 L710.0,487.6 L713.4,487.7 L716.8,487.8 L720.1,487.9 L723.5,488.0 L726.9,488.1 L730.2,488.2 L733.6,488.3 L737.0,488.4 L740.4,488.5 L743.7,488.5 L747.1,488.6 L750.5,488.7 L753.8,488.8 L757.2,488.9 L760.6,489.0 L763.9,489.0 L767.3,489.1 L770.7,489.2 L774.1,489.3 L777.4,489.3 L780.8,489.4 L784.2,489.5 L787.5,489.5 L790.9,489.6 L794.3,489.7 L797.6,489.7 L801.0,489.8 L804.4,489.8 L807.8,489.9 L811.1,490.0 L814.5,490.0 L817.9,490.1 L821.2,490.1 L824.6,490.2 L828.0,490.2 L831.3,490.3 L834.7,490.3 L838.1,490.4 L841.5,490.4 L844.8,490.5 L848.2,490.5 L851.6,490.5 L854.9,490.6 L858.3,490.6 L861.7,490.7 L865.0,490.7 L868.4,490.7 L871.8,490.8 L875.2,490.8 L878.5,490.9 L881.9,490.9 L885.3,490.9 L888.6,491.0 L892.0,491.0 L895.4,491.0 L898.7,491.1 L902.1,491.1 L905.5,491.1 L908.9,491.1 L912.2,491.2 L915.6,491.2 L919.0,491.2 L922.3,491.2 L927.0,491.3" fill="none" stroke="#0000ff" stroke-width="3.6" stroke-dasharray="12.5 5.2"/>
<path d="M82.9,28.7 L83.2,30.5 L84.9,41.3 L86.6,51.6 L88.3,61.7 L89.9,71.3 L91.6,80.7 L93.3,89.8 L95.0,98.6 L96.7,107.2 L98.4,115.5 L100.1,123.6 L101.7,131.5 L103.4,139.2 L105.1,146.7 L106.8,154.0 L108.5,161.1 L110.2,168.1 L111.8,174.9 L113.5,181.5 L115.2,188.0 L116.9,194.4 L118.6,200.6 L120.3,206.7 L122.0,212.7 L123.6,218.6 L125.3,224.3 L127.0,229.9 L128.7,235.5 L130.4,240.9 L132.1,246.2 L133.8,251.4 L135.4,256.5 L137.1,261.5 L138.8,266.5 L140.5,271.3 L142.2,276.0 L143.9,280.7 L145.5,285.3 L147.2,289.7 L148.9,294.1 L150.6,298.4 L152.3,302.7 L154.0,306.8 L155.7,310.9 L157.3,314.9 L159.0,318.8 L160.7,322.7 L162.4,326.4 L164.1,330.1 L165.8,333.7 L167.4,337.3 L169.1,340.8 L170.8,344.2 L172.5,347.5 L174.2,350.8 L175.9,354.0 L177.6,357.2 L179.2,360.3 L180.9,363.3 L182.6,366.2 L184.3,369.1 L186.0,372.0 L187.7,374.7 L189.4,377.5 L191.0,380.1 L192.7,382.7 L194.4,385.3 L196.1,387.8 L197.8,390.2 L199.5,392.6 L201.2,394.9 L202.8,397.2 L204.5,399.4 L206.2,401.6 L207.9,403.7 L209.6,405.8 L211.3,407.9 L212.9,409.9 L214.6,411.8 L216.3,413.7 L218.0,415.6 L219.7,417.4 L221.4,419.2 L223.1,420.9 L224.7,422.6 L226.4,424.3 L228.1,425.9 L229.8,427.5 L231.5,429.0 L233.2,430.5 L234.9,432.0 L236.5,433.5 L238.2,434.9 L239.9,436.2 L241.6,437.6 L243.3,438.9 L245.0,440.2 L246.6,441.4 L248.3,442.7 L250.0,443.9 L251.7,445.0 L255.1,447.3 L258.4,449.4 L261.8,451.5 L265.2,453.5 L268.6,455.3 L271.9,457.1 L275.3,458.8 L278.7,460.4 L282.0,462.0 L285.4,463.5 L288.8,464.9 L292.1,466.2 L295.5,467.5 L298.9,468.8 L302.3,470.0 L305.6,471.1 L309.0,472.2 L312.4,473.2 L315.7,474.2 L319.1,475.1 L322.5,476.0 L325.8,476.9 L329.2,477.7 L332.6,478.5 L336.0,479.3 L339.3,480.0 L342.7,480.7 L346.1,481.4 L349.4,482.0 L352.8,482.6 L356.2,483.2 L359.5,483.8 L362.9,484.3 L366.3,484.8 L369.7,485.3 L373.0,485.8 L376.4,486.3 L379.8,486.7 L383.1,487.1 L386.5,487.5 L389.9,487.9 L393.2,488.2 L396.6,488.6 L400.0,488.9 L403.4,489.2 L406.7,489.5 L410.1,489.8 L413.5,490.1 L416.8,490.4 L420.2,490.6 L423.6,490.8 L426.9,491.1 L430.3,491.3 L433.7,491.5 L437.1,491.7 L440.4,491.9 L443.8,492.0 L447.2,492.2 L450.5,492.3 L453.9,492.5 L457.3,492.6 L460.6,492.8 L464.0,492.9 L467.4,493.0 L470.8,493.1 L474.1,493.2 L477.5,493.3 L480.9,493.4 L484.2,493.5 L487.6,493.5 L491.0,493.6 L494.3,493.7 L497.7,493.7 L501.1,493.8 L504.5,493.8 L507.8,493.9 L511.2,493.9 L514.6,493.9 L517.9,494.0 L521.3,494.0 L524.7,494.0 L528.0,494.0 L531.4,494.0 L534.8,494.1 L538.2,494.1 L541.5,494.1 L544.9,494.1 L548.3,494.1 L551.6,494.1 L555.0,494.1 L558.4,494.1 L561.7,494.1 L565.1,494.1 L568.5,494.0 L571.9,494.0 L575.2,494.0 L578.6,494.0 L582.0,494.0 L585.3,494.0 L588.7,494.0 L592.1,493.9 L595.4,493.9 L598.8,493.9 L602.2,493.9 L605.6,493.8 L608.9,493.8 L612.3,493.8 L615.7,493.8 L619.0,493.7 L622.4,493.7 L625.8,493.7 L629.1,493.7 L632.5,493.6 L635.9,493.6 L639.3,493.6 L642.6,493.6 L646.0,493.5 L649.4,493.5 L652.7,493.5 L656.1,493.4 L659.5,493.4 L662.8,493.4 L666.2,493.4 L669.6,493.3 L673.0,493.3 L676.3,493.3 L679.7,493.3 L683.1,493.2 L686.4,493.2 L689.8,493.2 L693.2,493.1 L696.5,493.1 L699.9,493.1 L703.3,493.1 L706.7,493.0 L710.0,493.0 L713.4,493.0 L716.8,493.0 L720.1,493.0 L723.5,492.9 L726.9,492.9 L730.2,492.9 L733.6,492.9 L737.0,492.8 L740.4,492.8 L743.7,492.8 L747.1,492.8 L750.5,492.8 L753.8,492.7 L757.2,492.7 L760.6,492.7 L763.9,492.7 L767.3,492.7 L770.7,492.7 L774.1,492.6 L777.4,492.6 L780.8,492.6 L784.2,492.6 L787.5,492.6 L790.9,492.6 L794.3,492.6 L797.6,492.5 L801.0,492.5 L804.4,492.5 L807.8,492.5 L811.1,492.5 L814.5,492.5 L817.9,492.5 L821.2,492.5 L824.6,492.4 L828.0,492.4 L831.3,492.4 L834.7,492.4 L838.1,492.4 L841.5,492.4 L844.8,492.4 L848.2,492.4 L851.6,492.4 L854.9,492.4 L858.3,492.3 L861.7,492.3 L865.0,492.3 L868.4,492.3 L871.8,492.3 L875.2,492.3 L878.5,492.3 L881.9,492.3 L885.3,492.3 L888.6,492.3 L892.0,492.3 L895.4,492.3 L898.7,492.3 L902.1,492.3 L905.5,492.2 L908.9,492.2 L912.2,492.2 L915.6,492.2 L919.0,492.2 L922.3,492.2 L927.0,492.2" fill="none" stroke="#ff00ff" stroke-width="3.6" stroke-dasharray="12.5 5.2"/>
<path d="M83.0,28.7 L83.2,30.5 L84.9,42.6 L86.6,54.4 L88.3,65.9 L89.9,77.1 L91.6,88.1 L93.3,98.7 L95.0,109.1 L96.7,119.2 L98.4,129.1 L100.1,138.7 L101.7,148.1 L103.4,157.3 L105.1,166.2 L106.8,175.0 L108.5,183.5 L110.2,191.8 L111.8,199.9 L113.5,207.8 L115.2,215.5 L116.9,223.0 L118.6,230.4 L120.3,237.6 L122.0,244.6 L123.6,251.5 L125.3,258.2 L127.0,264.7 L128.7,271.1 L130.4,277.3 L132.1,283.4 L133.8,289.4 L135.4,295.2 L137.1,300.9 L138.8,306.5 L140.5,311.9 L142.2,317.2 L143.9,322.4 L145.5,327.5 L147.2,332.4 L148.9,337.3 L150.6,342.0 L152.3,346.6 L154.0,351.2 L155.7,355.6 L157.3,359.9 L159.0,364.1 L160.7,368.3 L162.4,372.3 L164.1,376.2 L165.8,380.1 L167.4,383.9 L169.1,387.5 L170.8,391.1 L172.5,394.7 L174.2,398.1 L175.9,401.5 L177.6,404.7 L179.2,408.0 L180.9,411.1 L182.6,414.2 L184.3,417.1 L186.0,420.1 L187.7,422.9 L189.4,425.7 L191.0,428.4 L192.7,431.1 L194.4,433.7 L196.1,436.2 L197.8,438.7 L199.5,441.2 L201.2,443.5 L202.8,445.8 L204.5,448.1 L206.2,450.3 L207.9,452.4 L209.6,454.5 L211.3,456.6 L212.9,458.6 L214.6,460.5 L216.3,462.4 L218.0,464.3 L219.7,466.1 L221.4,467.8 L223.1,469.5 L224.7,471.2 L226.4,472.8 L228.1,474.4 L229.8,476.0 L231.5,477.5 L233.2,478.9 L234.9,480.4 L236.5,481.8 L238.2,483.1 L239.9,484.4 L241.6,485.7 L243.3,487.0 L245.0,488.2 L246.6,489.3 L248.3,490.5 L250.0,491.6 L251.7,492.7 L255.1,494.8 L258.4,496.7 L261.8,498.6 L265.2,500.3 L268.6,501.9 L271.9,503.4 L275.3,504.9 L278.7,506.2 L282.0,507.4 L285.4,508.6 L288.8,509.7 L292.1,510.7 L295.5,511.6 L298.9,512.5 L302.3,513.3 L305.6,514.0 L309.0,514.6 L312.4,515.2 L315.7,515.8 L319.1,516.3 L322.5,516.7 L325.8,517.1 L329.2,517.5 L332.6,517.8 L336.0,518.0 L339.3,518.2 L342.7,518.4 L346.1,518.6 L349.4,518.7 L352.8,518.8 L356.2,518.8 L359.5,518.8 L362.9,518.8 L366.3,518.8 L369.7,518.7 L373.0,518.7 L376.4,518.6 L379.8,518.5 L383.1,518.3 L386.5,518.2 L389.9,518.0 L393.2,517.8 L396.6,517.6 L400.0,517.4 L403.4,517.2 L406.7,517.0 L410.1,516.7 L413.5,516.5 L416.8,516.2 L420.2,516.0 L423.6,515.7 L426.9,515.4 L430.3,515.1 L433.7,514.9 L437.1,514.6 L440.4,514.3 L443.8,514.0 L447.2,513.7 L450.5,513.4 L453.9,513.1 L457.3,512.8 L460.6,512.5 L464.0,512.2 L467.4,511.9 L470.8,511.6 L474.1,511.3 L477.5,511.0 L480.9,510.7 L484.2,510.4 L487.6,510.1 L491.0,509.8 L494.3,509.5 L497.7,509.2 L501.1,508.9 L504.5,508.6 L507.8,508.4 L511.2,508.1 L514.6,507.8 L517.9,507.5 L521.3,507.3 L524.7,507.0 L528.0,506.7 L531.4,506.5 L534.8,506.2 L538.2,506.0 L541.5,505.7 L544.9,505.5 L548.3,505.2 L551.6,505.0 L555.0,504.8 L558.4,504.5 L561.7,504.3 L565.1,504.1 L568.5,503.9 L571.9,503.7 L575.2,503.5 L578.6,503.3 L582.0,503.0 L585.3,502.8 L588.7,502.7 L592.1,502.5 L595.4,502.3 L598.8,502.1 L602.2,501.9 L605.6,501.7 L608.9,501.6 L612.3,501.4 L615.7,501.2 L619.0,501.0 L622.4,500.9 L625.8,500.7 L629.1,500.6 L632.5,500.4 L635.9,500.3 L639.3,500.1 L642.6,500.0 L646.0,499.8 L649.4,499.7 L652.7,499.6 L656.1,499.4 L659.5,499.3 L662.8,499.2 L666.2,499.0 L669.6,498.9 L673.0,498.8 L676.3,498.7 L679.7,498.6 L683.1,498.5 L686.4,498.3 L689.8,498.2 L693.2,498.1 L696.5,498.0 L699.9,497.9 L703.3,497.8 L706.7,497.7 L710.0,497.6 L713.4,497.5 L716.8,497.4 L720.1,497.3 L723.5,497.3 L726.9,497.2 L730.2,497.1 L733.6,497.0 L737.0,496.9 L740.4,496.8 L743.7,496.8 L747.1,496.7 L750.5,496.6 L753.8,496.5 L757.2,496.4 L760.6,496.4 L763.9,496.3 L767.3,496.2 L770.7,496.2 L774.1,496.1 L777.4,496.0 L780.8,496.0 L784.2,495.9 L787.5,495.8 L790.9,495.8 L794.3,495.7 L797.6,495.7 L801.0,495.6 L804.4,495.5 L807.8,495.5 L811.1,495.4 L814.5,495.4 L817.9,495.3 L821.2,495.3 L824.6,495.2 L828.0,495.2 L831.3,495.1 L834.7,495.1 L838.1,495.0 L841.5,495.0 L844.8,494.9 L848.2,494.9 L851.6,494.8 L854.9,494.8 L858.3,494.7 L861.7,494.7 L865.0,494.6 L868.4,494.6 L871.8,494.6 L875.2,494.5 L878.5,494.5 L881.9,494.4 L885.3,494.4 L888.6,494.4 L892.0,494.3 L895.4,494.3 L898.7,494.3 L902.1,494.2 L905.5,494.2 L908.9,494.2 L912.2,494.1 L915.6,494.1 L919.0,494.0 L922.3,494.0 L927.0,494.0" fill="none" stroke="#000000" stroke-width="3.6" stroke-dasharray="12.5 5.2"/>
<rect x="65.7" y="3.6" width="877.4" height="542.05" fill="none" stroke="#000" stroke-width="3.8"/>
<path d="M82.95,545.65v-7.2M82.95,3.6v7.2M116.64,545.65v-4.3M116.64,3.6v4.3M150.34,545.65v-4.3M150.34,3.6v4.3M184.03,545.65v-4.3M184.03,3.6v4.3M217.73,545.65v-4.3M217.73,3.6v4.3M251.42,545.65v-7.2M251.42,3.6v7.2M285.11,545.65v-4.3M285.11,3.6v4.3M318.81,545.65v-4.3M318.81,3.6v4.3M352.50,545.65v-4.3M352.50,3.6v4.3M386.20,545.65v-4.3M386.20,3.6v4.3M419.89,545.65v-7.2M419.89,3.6v7.2M453.58,545.65v-4.3M453.58,3.6v4.3M487.28,545.65v-4.3M487.28,3.6v4.3M520.97,545.65v-4.3M520.97,3.6v4.3M554.67,545.65v-4.3M554.67,3.6v4.3M588.36,545.65v-7.2M588.36,3.6v7.2M622.05,545.65v-4.3M622.05,3.6v4.3M655.75,545.65v-4.3M655.75,3.6v4.3M689.44,545.65v-4.3M689.44,3.6v4.3M723.14,545.65v-4.3M723.14,3.6v4.3M756.83,545.65v-7.2M756.83,3.6v7.2M790.52,545.65v-4.3M790.52,3.6v4.3M824.22,545.65v-4.3M824.22,3.6v4.3M857.91,545.65v-4.3M857.91,3.6v4.3M891.61,545.65v-4.3M891.61,3.6v4.3M925.30,545.65v-7.2M925.30,3.6v7.2M65.7,538.23h4.3M943.1,538.23h-4.3M65.7,515.17h4.3M943.1,515.17h-4.3M65.7,492.10h7.2M943.1,492.10h-7.2M65.7,469.04h4.3M943.1,469.04h-4.3M65.7,445.97h4.3M943.1,445.97h-4.3M65.7,422.91h4.3M943.1,422.91h-4.3M65.7,399.84h7.2M943.1,399.84h-7.2M65.7,376.78h4.3M943.1,376.78h-4.3M65.7,353.71h4.3M943.1,353.71h-4.3M65.7,330.64h4.3M943.1,330.64h-4.3M65.7,307.58h7.2M943.1,307.58h-7.2M65.7,284.51h4.3M943.1,284.51h-4.3M65.7,261.45h4.3M943.1,261.45h-4.3M65.7,238.38h4.3M943.1,238.38h-4.3M65.7,215.32h7.2M943.1,215.32h-7.2M65.7,192.25h4.3M943.1,192.25h-4.3M65.7,169.19h4.3M943.1,169.19h-4.3M65.7,146.12h4.3M943.1,146.12h-4.3M65.7,123.06h7.2M943.1,123.06h-7.2M65.7,99.99h4.3M943.1,99.99h-4.3M65.7,76.93h4.3M943.1,76.93h-4.3M65.7,53.87h4.3M943.1,53.87h-4.3M65.7,30.80h7.2M943.1,30.80h-7.2M65.7,7.74h4.3M943.1,7.74h-4.3" stroke="#000" stroke-width="3.7" fill="none"/>
<text transform="translate(403.10,97.78) scale(0.9576,1)" style='font-family:"Liberation Serif",serif;font-size:41.79px;font-style:italic;' stroke="#000" stroke-width="0.4">Cu</text>
<text transform="translate(466.30,87.60) skewX(-19.0) translate(-466.30,-87.60) translate(454.23,101.78) scale(1.0185,1)" style='font-family:"Liberation Serif",serif;font-size:42.34px;' stroke="#000" stroke-width="0.5">+</text>
<text transform="translate(476.52,97.80) scale(0.8894,1)" style='font-family:"Liberation Serif",serif;font-size:41.67px;font-style:italic;' stroke="#000" stroke-width="0.4">A</text>
<text transform="translate(502.63,97.10) scale(0.9532,1)" style='font-family:"Liberation Sans","DejaVu Sans",sans-serif;font-size:38.90px;font-style:italic;' stroke="#000" stroke-width="0.6">l</text>
<text transform="translate(511.79,104.25) scale(0.8194,1)" style='font-family:"Liberation Sans","DejaVu Sans",sans-serif;font-size:29.86px;font-style:italic;' stroke="#000" stroke-width="0.5">2</text>
<text transform="translate(543.50,83.20) skewX(-6.0) translate(-543.50,-83.20) translate(527.88,97.78) scale(0.9604,1)" style='font-family:"Liberation Sans","DejaVu Sans",sans-serif;font-size:42.25px;' stroke="#000" stroke-width="0.6">O</text>
<text transform="translate(559.41,104.35) scale(0.9079,1)" style='font-family:"Liberation Sans","DejaVu Sans",sans-serif;font-size:29.72px;font-style:italic;' stroke="#000" stroke-width="0.5">3</text>
<text transform="translate(591.23,97.12) scale(0.9943,1)" style='font-family:"Liberation Sans","DejaVu Sans",sans-serif;font-size:40.80px;' stroke="#000" stroke-width="0.55">Hybrid Nanofluid</text>
<text transform="translate(417.21,194.48) scale(0.9464,1)" style='font-family:"Liberation Serif",serif;font-size:42.09px;font-style:italic;' stroke="#000" stroke-width="0.4">Cu</text>
<text transform="translate(475.22,192.72) scale(1.0226,1)" style='font-family:"Liberation Sans","DejaVu Sans",sans-serif;font-size:39.78px;' stroke="#000" stroke-width="0.55">Nanofluid</text>
<text transform="translate(449.48,296.15) scale(0.9503,1)" style='font-family:"Liberation Serif",serif;font-size:42.50px;' stroke="#000" stroke-width="0.4">Sc</text>
<text transform="translate(490.76,295.43) scale(1.0026,1)" style='font-family:"Liberation Sans","DejaVu Sans",sans-serif;font-size:40.36px;' stroke="#000" stroke-width="0.55">=1,2,3,4.</text>
<text transform="translate(77.51,568.55) scale(0.9693,1)" style='font-family:"Liberation Sans","DejaVu Sans",sans-serif;font-size:20.42px;font-weight:bold;' stroke="#000" stroke-width="0.7">0</text>
<text transform="translate(247.19,568.55) scale(0.8022,1)" style='font-family:"Liberation Sans","DejaVu Sans",sans-serif;font-size:20.42px;font-weight:bold;' stroke="#000" stroke-width="0.7">1</text>
<text transform="translate(414.45,568.55) scale(0.9693,1)" style='font-family:"Liberation Sans","DejaVu Sans",sans-serif;font-size:20.42px;font-weight:bold;' stroke="#000" stroke-width="0.7">2</text>
<text transform="translate(583.12,568.55) scale(0.9499,1)" style='font-family:"Liberation Sans","DejaVu Sans",sans-serif;font-size:20.42px;font-weight:bold;' stroke="#000" stroke-width="0.7">3</text>
<text transform="translate(751.80,568.55) scale(0.8636,1)" style='font-family:"Liberation Sans","DejaVu Sans",sans-serif;font-size:20.42px;font-weight:bold;' stroke="#000" stroke-width="0.7">4</text>
<text transform="translate(919.87,568.55) scale(0.9499,1)" style='font-family:"Liberation Sans","DejaVu Sans",sans-serif;font-size:20.42px;font-weight:bold;' stroke="#000" stroke-width="0.7">5</text>
<text transform="translate(30.52,500.04) scale(0.8442,1)" style='font-family:"Liberation Sans","DejaVu Sans",sans-serif;font-size:20.85px;font-weight:bold;' stroke="#000" stroke-width="0.7">0.0</text>
<text transform="translate(30.52,407.78) scale(0.8442,1)" style='font-family:"Liberation Sans","DejaVu Sans",sans-serif;font-size:20.85px;font-weight:bold;' stroke="#000" stroke-width="0.7">0.2</text>
<text transform="translate(30.54,315.52) scale(0.8195,1)" style='font-family:"Liberation Sans","DejaVu Sans",sans-serif;font-size:20.85px;font-weight:bold;' stroke="#000" stroke-width="0.7">0.4</text>
<text transform="translate(30.52,223.26) scale(0.8442,1)" style='font-family:"Liberation Sans","DejaVu Sans",sans-serif;font-size:20.85px;font-weight:bold;' stroke="#000" stroke-width="0.7">0.6</text>
<text transform="translate(30.53,131.00) scale(0.8379,1)" style='font-family:"Liberation Sans","DejaVu Sans",sans-serif;font-size:20.85px;font-weight:bold;' stroke="#000" stroke-width="0.7">0.8</text>
<text transform="translate(29.97,38.74) scale(0.8638,1)" style='font-family:"Liberation Sans","DejaVu Sans",sans-serif;font-size:20.85px;font-weight:bold;' stroke="#000" stroke-width="0.7">1.0</text>
<text transform="translate(499.18,601.77) scale(0.9424,1)" style='font-family:"Liberation Sans","DejaVu Sans",sans-serif;font-size:27.63px;font-style:italic;font-weight:bold;' stroke="#000" stroke-width="1.0">ξ</text>
<g transform="rotate(-90)">
<text transform="translate(-298.29,20.02) scale(0.8331,1)" style='font-family:"Liberation Sans","DejaVu Sans",sans-serif;font-size:27.75px;font-weight:bold;' stroke="#000" stroke-width="1.0">Φ</text>
<text transform="translate(-277.72,19.63) scale(0.6343,1)" style='font-family:"Liberation Sans","DejaVu Sans",sans-serif;font-size:26.28px;font-weight:bold;' stroke="#000" stroke-width="1.7">(</text>
<text transform="translate(-268.63,19.15) scale(0.9127,1)" style='font-family:"Liberation Sans","DejaVu Sans",sans-serif;font-size:26.02px;font-style:italic;font-weight:bold;' stroke="#000" stroke-width="1.1">ξ</text>
<text transform="translate(-255.75,19.63) scale(0.6168,1)" style='font-family:"Liberation Sans","DejaVu Sans",sans-serif;font-size:26.28px;font-weight:bold;' stroke="#000" stroke-width="1.7">)</text>
</g>
<path d="M255.2,84.6H376.8" stroke="#000" stroke-width="4.3" fill="none"/>
<path d="M265.7,180.0H376.8" stroke="#000" stroke-width="4.3" stroke-dasharray="13.8 5.66" fill="none"/>
<path d="M260.2,263.6L186,467.5" stroke="#000" stroke-width="1.5" fill="none"/>
<path d="M178.6,488.7L181.3,462L186.2,467.2L194.4,466.5Z" fill="#000"/>
</svg>
</body></html>
